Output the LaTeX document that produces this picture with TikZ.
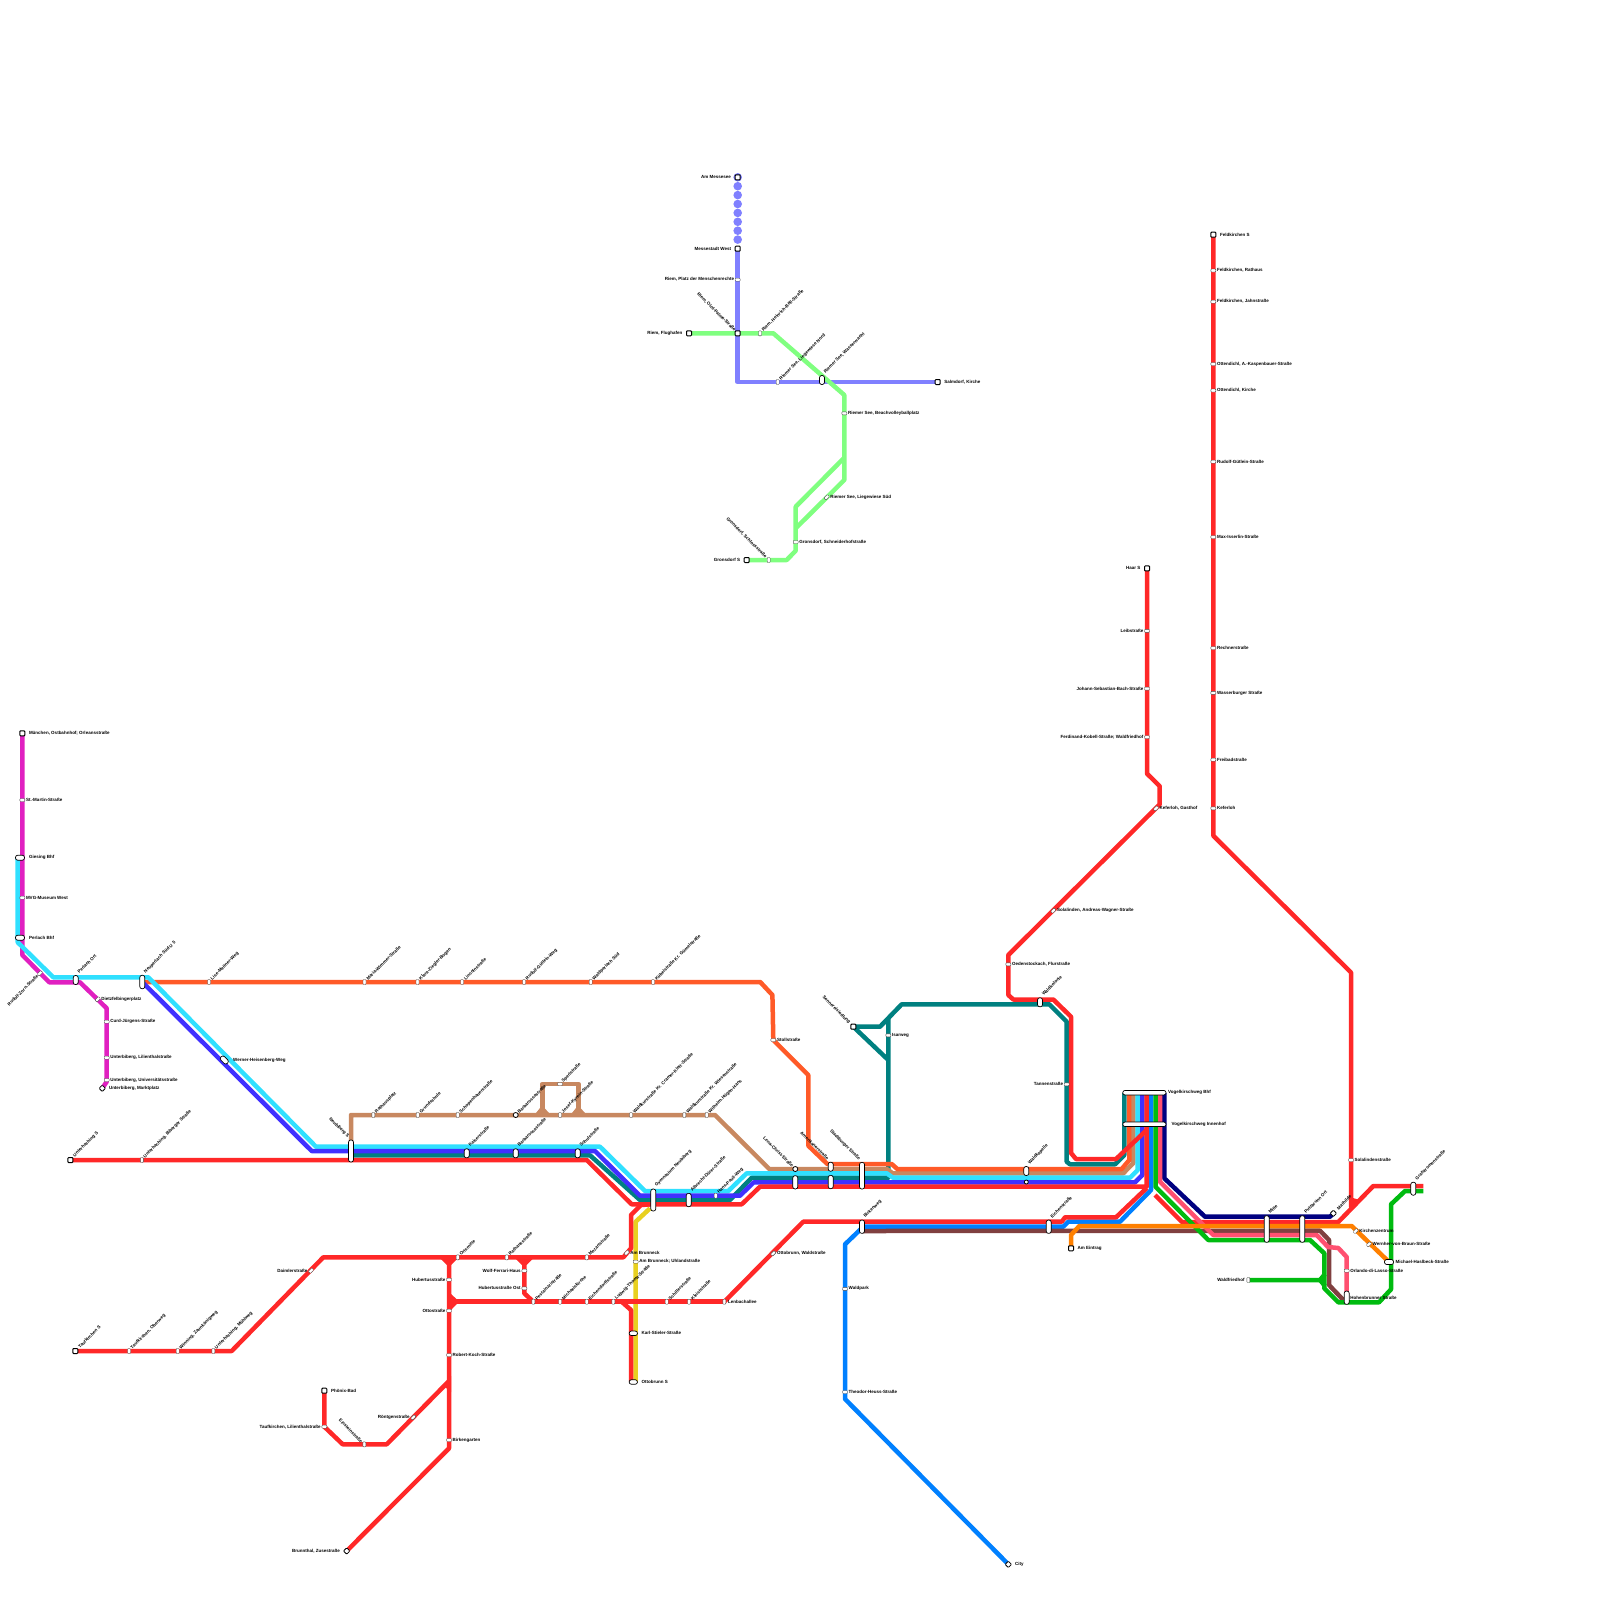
\documentclass[tikz,border=0pt]{standalone}
\usepackage{fontspec}
\setmainfont{Liberation Sans}
\usepackage{xcolor}
\usetikzlibrary{backgrounds}
\definecolor{clperi}{HTML}{8080FF}
\definecolor{clmint}{HTML}{80FF80}
\definecolor{clmag}{HTML}{E020C0}
\definecolor{clcyan}{HTML}{30E0FF}
\definecolor{clviol}{HTML}{4030FF}
\definecolor{cltan}{HTML}{C88860}
\definecolor{clteal}{HTML}{008080}
\definecolor{clred}{HTML}{FF2828}
\definecolor{clora}{HTML}{FF5A28}
\definecolor{clyel}{HTML}{E8D020}
\definecolor{clblue}{HTML}{0080FF}
\definecolor{cllime}{HTML}{00BB10}
\definecolor{clpink}{HTML}{FF5070}
\definecolor{clnavy}{HTML}{000080}
\definecolor{clbrown}{HTML}{804040}
\definecolor{clamb}{HTML}{FF8000}

\begin{document}
\begin{tikzpicture}[
  x=1pt, y=-1pt,
  ln/.style={line width=4.5pt, line join=round},
  st/.style={draw=black!70, fill=white, inner sep=0pt, line width=0.4pt, rounded corners=0.8pt},
  sth/.style={st, minimum width=5pt, minimum height=3pt},
  stv/.style={st, minimum width=3pt, minimum height=5pt},
  std/.style={st, minimum width=5pt, minimum height=3pt, rotate=45},
  sq/.style={st, draw=black, line width=1pt, minimum width=5pt, minimum height=5pt},
  rnd/.style={st, circle, draw=black, line width=0.8pt, minimum size=5pt},
  pill/.style={st, draw=black, line width=0.7pt, rounded corners=2.2pt, minimum width=5pt, minimum height=#1},
  pillh/.style={st, draw=black, line width=0.7pt, rounded corners=2.2pt, minimum width=#1, minimum height=5pt},
  pillr/.style={pillh=#1, rotate=-45},
  lab/.style={font=\fontsize{4.5}{6}\selectfont\bfseries, inner ysep=0pt, inner xsep=3.5pt},
  labe/.style={lab, anchor=west},
  labw/.style={lab, anchor=east},
  labE/.style={labe, inner xsep=6.5pt},
  labW/.style={labw, inner xsep=6.5pt},
  labne/.style={lab, anchor=west, rotate=45},
  labsw/.style={lab, anchor=east, rotate=45},
  labnw/.style={lab, anchor=east, rotate=-45},
  mesdot/.style={circle, fill=clperi, inner sep=0pt, minimum size=8.6pt}
]
\useasboundingbox (0,0) rectangle (1600,1600);

% Messe dots
\foreach \i in {0,...,7} \node[mesdot] (mes\i) at (737.7,177.3+8.9*\i) {};

% Riem
\node[sq] (mess) at (737.7,177.3) {}; \node[labW] (messT) at (mess) {Am Messesee};
\node[sq] (messW) at (737.7,248.7) {}; \node[labW] (messWT) at (messW) {Messestadt West};
\node[sth] (riemP) at (737.7,279.7) {}; \node[labw] (riemPT) at (riemP) {Riem, Platz der Menschenrechte};
\node[sq] (riemO) at (737.7,333.3) {}; \node[labnw] (riemOT) at (riemO) {Riem, Olof-Palme-Straße};
\node[sq] (riemF) at (689,333.3) {}; \node[labW] (riemFT) at (riemF) {Riem, Flughafen};
\node[stv] (riemH) at (760,333.3) {}; \node[labne] (riemHT) at (riemH) {Riem, Heinrich-Böll-Straße};
\node[stv] (seeN) at (777.7,382) {}; \node[labne] (seeNT) at (seeN) {Riemer See, Liegewiese Nord};
\node[pill=9pt] (seeW) at (822,380) {}; \node[labne] (seeWT) at (seeW.north) {Riemer See, Wasserwacht};
\node[sq] (salm) at (937.7,382) {}; \node[labE] (salmT) at (salm) {Salmdorf, Kirche};
\node[sth] (seeB) at (844.3,413.3) {}; \node[labe] (seeBT) at (seeB) {Riemer See, Beachvolleyballplatz};
\node[std] (seeS) at (826.7,497.3) {}; \node[labe] (seeST) at (seeS) {Riemer See, Liegewiese Süd};
\node[sth] (gronH) at (795.7,542) {}; \node[labe] (gronHT) at (gronH) {Gronsdorf, Schneiderhofstraße};
\node[stv] (gronL) at (768.7,560) {}; \node[labnw] (gronLT) at (gronL) {Gronsdorf, Schlossstraße};
\node[sq] (gronS) at (746.7,560) {}; \node[labW] (gronST) at (gronS) {Gronsdorf S};

% Ostbahnhof and Unterbiberg
\node[sq] (ost) at (22.3,733.3) {}; \node[labE] (ostT) at (ost) {München, Ostbahnhof; Orleansstraße};
\node[sth] (mart) at (22.3,800) {}; \node[labe] (martT) at (mart) {St.-Martin-Straße};
\node[pillh=9pt] (gies) at (20,857.7) {}; \node[labE] (giesT) at (22.3,857.7) {Giesing Bhf};
\node[sth] (mvg) at (22.3,897.7) {}; \node[labe] (mvgT) at (mvg) {MVG-Museum West};
\node[pillh=9pt] (perl) at (20,937.7) {}; \node[labE] (perlT) at (22.3,937.7) {Perlach Bhf};
\node[std] (zorn) at (40,973.3) {}; \node[labsw] (zornT) at (zorn) {Rudolf-Zorn-Straße};
\node[pill=9pt] (perlO) at (75.7,980) {}; \node[labne] (perlOT) at (perlO.north) {Perlach Ort};
\node[pill=13.5pt] (neuS) at (142.3,982) {}; \node[labne] (neuST) at (neuS.north) {Neuperlach Süd U 5};
\node[std] (diet) at (97.7,999.3) {}; \node[labe] (dietT) at (diet) {Dietzfelbingerplatz};
\node[sth] (curd) at (106.7,1021.7) {}; \node[labe] (curdT) at (curd) {Curd-Jürgens-Straße};
\node[sth] (ubLil) at (106.7,1057.7) {}; \node[labe] (ubLilT) at (ubLil) {Unterbiberg, Lilienthalstraße};
\node[sth] (ubUni) at (106.7,1080) {}; \node[labe] (ubUniT) at (ubUni) {Unterbiberg, Universitätsstraße};
\node[st, draw=black, line width=0.8pt, minimum size=4.5pt, rotate=45] (ubMar) at (102.3,1088.3) {}; \node[labE] (ubMarT) at (ubMar) {Unterbiberg, Marktplatz};
\node[pillr=9pt] (wern) at (224.3,1060) {}; \node[labE] (wernT) at (226.5,1060) {Werner-Heisenberg-Weg};

% Orange row
\node[stv] (lise) at (209,982) {}; \node[labne] (liseT) at (lise) {Lise-Meitner-Weg};
\node[stv] (mari) at (364.5,982) {}; \node[labne] (mariT) at (mari) {Maria-Wimmer-Straße};
\node[stv] (klar) at (417.5,982) {}; \node[labne] (klarT) at (klar) {Klara-Ziegler-Bogen};
\node[stv] (linc) at (462,982) {}; \node[labne] (lincT) at (linc) {Lincolnstraße};
\node[stv] (rudW) at (524,982) {}; \node[labne] (rudWT) at (rudW) {Rudolf-Gütlein-Weg};
\node[stv] (wald) at (590.7,982) {}; \node[labne] (waldT) at (wald) {Waldperlach Süd};
\node[stv] (kueb) at (653,982) {}; \node[labne] (kuebT) at (kueb) {Kübelstraße Kr. Gümelstraße};
\node[sth] (stoll) at (773.3,1040) {}; \node[labe] (stollT) at (stoll) {Stollstraße};

% Neubiberg row
\node[pill=22pt] (neub) at (351,1151) {}; \node[labnw] (neubT) at (neub.north) {Neubiberg S};
\node[stv] (rath) at (373.3,1115) {}; \node[labne] (rathT) at (rath) {Rathausplatz};
\node[stv] (grun) at (417.7,1115) {}; \node[labne] (grunT) at (grun) {Grundschule};
\node[stv] (scho) at (457.7,1115) {}; \node[labne] (schoT) at (scho) {Schopenhauerstraße};
\node[rnd] (barb) at (515.7,1115) {}; \node[labne] (barbT) at (barb) {Barbarossastraße};
\node[sth] (sper) at (560,1084) {}; \node[labne] (sperT) at (sper) {Sperlstraße};
\node[stv] (jose) at (560,1115) {}; \node[labne] (joseT) at (jose) {Josef-Kyrein-Straße};
\node[stv] (kurC) at (631,1115) {}; \node[labne] (kurCT) at (kurC) {Waldkurstraße Kr. Cramer-Klett-Straße};
\node[stv] (kurW) at (684.3,1115) {}; \node[labne] (kurWT) at (kurW) {Waldkurstraße Kr. Wiesenstraße};
\node[stv] (wilh) at (706.7,1115) {}; \node[labne] (wilhT) at (wilh) {Wilhelm-Hügen-Hans};
\node[pill=9pt] (kais) at (466.7,1153.3) {}; \node[labne] (kaisT) at (kais.north) {Kaiserstraße};
\node[pill=9pt] (bar2) at (515.7,1153.3) {}; \node[labne] (bar2T) at (bar2.north) {Barbarossastraße};
\node[pill=9pt] (schu) at (577.7,1153.3) {}; \node[labne] (schuT) at (schu.north) {Schulstraße};
\node[pill=22pt] (gym) at (653.3,1200) {}; \node[labne] (gymT) at (gym.north) {Gymnasium Neubiberg};
\node[pill=13.3pt] (albr) at (688.7,1200) {}; \node[labne] (albrT) at (albr.north) {Albrecht-Dürer-Straße};
\node[stv] (hans) at (715.7,1195.7) {}; \node[labne] (hansT) at (hans) {Hans-Pauli-Weg};

% Middle stretch
\node[rnd] (lena) at (795.3,1169) {}; \node[labnw] (lenaT) at (lena) {Lena-Christ-Straße};
\node[pill=13.3pt] (len2) at (795.3,1182.3) {};
\node[pill=9pt] (amer) at (830.7,1166.7) {}; \node[labnw] (amerT) at (amer.north) {Amerikanerstraße};
\node[pill=13.3pt] (ame2) at (830.7,1182) {};
\node[pill=26.7pt] (stad) at (862,1175.7) {}; \node[labnw] (stadT) at (stad.north) {Stadtburger Straße};
\node[pill=9pt] (kape) at (1026.3,1171) {}; \node[labne] (kapeT) at (kape.north) {Waldkapelle};
\node[rnd, minimum size=4pt] (kap2) at (1026.3,1182) {};
\node[pill=13.3pt] (birk) at (862,1226.7) {}; \node[labne] (birkT) at (birk.north) {Birkenweg};
\node[pill=13.3pt] (eich) at (1048.7,1226.7) {}; \node[labne] (eichT) at (eich.north) {Eichenstraße};
\node[sq] (eint) at (1071,1248.3) {}; \node[labE] (eintT) at (eint) {Am Eintrag};
\node[std] (ottW) at (773.3,1253.3) {}; \node[labe] (ottWT) at (ottW) {Ottobrunn, Waldstraße};
\node[sth] (wpark) at (845,1288.8) {}; \node[labe] (wparkT) at (wpark) {Waldpark};
\node[sth] (theo) at (845,1392) {}; \node[labe] (theoT) at (theo) {Theodor-Heuss-Straße};
\node[st, draw=black, line width=0.8pt, minimum size=4.5pt, rotate=45] (city) at (1008.3,1564.3) {}; \node[labE] (cityT) at (city) {City};

% Waldkolonie and Isarweg
\node[sq] (senn) at (853.3,1026.7) {}; \node[labnw, inner xsep=5pt] (sennT) at (senn) {Sennereisiedlung};
\node[sth] (isar) at (888.3,1035.3) {}; \node[labe] (isarT) at (isar) {Isarweg};
\node[sth] (tann) at (1066.7,1084.3) {}; \node[labw] (tannT) at (tann) {Tannenstraße};
\node[pill=9pt] (kolo) at (1040,1002.3) {}; \node[labne] (koloT) at (kolo.north) {Waldkolonie};
\node[sth] (oede) at (1008.3,964.3) {}; \node[labe] (oedeT) at (oede) {Oedenstockach, Flurstraße};
\node[std] (sola) at (1053.3,910.7) {}; \node[labe] (solaT) at (sola) {Solalinden, Andreas-Wagner-Straße};

% Haar
\node[sq] (haar) at (1147,568.4) {}; \node[labW] (haarT) at (haar) {Haar S};
\node[sth] (leib) at (1147,630.8) {}; \node[labw] (leibT) at (leib) {Leibstraße};
\node[sth] (jsb) at (1147,688.6) {}; \node[labw] (jsbT) at (jsb) {Johann-Sebastian-Bach-Straße};
\node[sth] (ferd) at (1147,737.2) {}; \node[labw] (ferdT) at (ferd) {Ferdinand-Kobell-Straße; Waldfriedhof};
\node[std] (kefG) at (1156,808.4) {}; \node[labe] (kefGT) at (kefG) {Keferloh, Gasthof};

% Feldkirchen
\node[sq] (feld) at (1213.3,234.7) {}; \node[labE] (feldT) at (feld) {Feldkirchen S};
\node[sth] (feldR) at (1213.3,270.5) {}; \node[labe] (feldRT) at (feldR) {Feldkirchen, Rathaus};
\node[sth] (feldJ) at (1213.3,301.7) {}; \node[labe] (feldJT) at (feldJ) {Feldkirchen, Jahnstraße};
\node[sth] (ottA) at (1213.3,364) {}; \node[labe] (ottAT) at (ottA) {Ottendichl, A.-Kaspenbauer-Straße};
\node[sth] (ottK) at (1213.3,390.5) {}; \node[labe] (ottKT) at (ottK) {Ottendichl, Kirche};
\node[sth] (rudG) at (1213.3,461.7) {}; \node[labe] (rudGT) at (rudG) {Rudolf-Gütlein-Straße};
\node[sth] (isse) at (1213.3,537) {}; \node[labe] (isseT) at (isse) {Max-Isserlin-Straße};
\node[sth] (rech) at (1213.3,648) {}; \node[labe] (rechT) at (rech) {Rechnerstraße};
\node[sth] (wass) at (1213.3,692.9) {}; \node[labe] (wassT) at (wass) {Wasserburger Straße};
\node[sth] (frei) at (1213.3,759.7) {}; \node[labe] (freiT) at (frei) {Freibadstraße};
\node[sth] (kefe) at (1213.3,808.3) {}; \node[labe] (kefeT) at (kefe) {Keferloh};

% Vogelkirschweg and east
\node[pillh=43.3pt, minimum height=4.5pt] (vogB) at (1144.4,1092.7) {}; \node[lab, anchor=west, inner xsep=1.5pt] (vogBT) at (vogB.east) {Vogelkirschweg Bhf};
\node[pillh=43.3pt, minimum height=4.5pt] (vogI) at (1144.4,1124.3) {}; \node[lab, anchor=west, inner xsep=5pt] (vogIT) at (vogI.east) {Vogelkirschweg Innenhof};
\node[pill=26.6pt] (mitt) at (1266.7,1229) {}; \node[labne] (mittT) at (mitt.north) {Mitte};
\node[pill=26.6pt] (putz) at (1302.3,1229) {}; \node[labne] (putzT) at (putz.north) {Putzbrunn Ort};
\node[st, draw=black, line width=0.8pt, minimum size=4.5pt, rotate=45] (math) at (1333.3,1213.3) {}; \node[labne, inner xsep=6pt] (mathT) at (math) {Mathilde};
\node[sth] (solS) at (1351,1160) {}; \node[labe] (solST) at (solS) {Solalindenstraße};
\node[pill=13pt] (graf) at (1413.3,1188.7) {}; \node[labne] (grafT) at (graf.north) {Grafstromenstraße};
\node[std] (kirc) at (1355.7,1231) {}; \node[labe] (kircT) at (kirc) {Kirchenzentrum};
\node[std] (wernB) at (1369,1244.3) {}; \node[labe] (wernBT) at (wernB) {Wernher-von-Braun-Straße};
\node[pillh=9pt] (mich) at (1389,1262) {}; \node[lab, anchor=west, inner xsep=1.5pt] (michT) at (mich.east) {Michael-Haslbeck-Straße};
\node[sth] (orla) at (1346.7,1270.7) {}; \node[labe] (orlaT) at (orla) {Orlando-di-Lasso-Straße};
\node[pill=13.3pt] (hohe) at (1346.7,1297.7) {}; \node[labe] (hoheT) at (hohe) {Hohenbrunner Straße};
\node[stv] (wfh) at (1248.3,1280) {}; \node[labw] (wfhT) at (wfh) {Waldfriedhof};

% Ottobrunn
\node[stv] (orts) at (457.7,1257.3) {}; \node[labne] (ortsT) at (orts) {Ortsmitte};
\node[stv] (rats) at (506.7,1257.3) {}; \node[labne] (ratsT) at (rats) {Rathausstraße};
\node[stv] (moza) at (586.7,1257.3) {}; \node[labne] (mozaT) at (moza) {Mozartstraße};
\node[std] (brun) at (626.7,1252.7) {}; \node[labe] (brunT) at (brun) {Am Brunneck};
\node[sth] (uhla) at (635.7,1261.7) {}; \node[labe] (uhlaT) at (uhla) {Am Brunneck; Uhlandstraße};
\node[sth] (wolf) at (524.3,1270.7) {}; \node[labw] (wolfT) at (wolf) {Wolf-Ferrari-Haus};
\node[sth] (hubO) at (524.3,1288.3) {}; \node[labw] (hubOT) at (hubO) {Hubertusstraße Ost};
\node[sth] (hubS) at (449,1279.7) {}; \node[labw] (hubST) at (hubS) {Hubertusstraße};
\node[sth] (otto) at (449,1310.7) {}; \node[labw] (ottoT) at (otto) {Ottostraße};
\node[sth] (koch) at (449,1355) {}; \node[labe] (kochT) at (koch) {Robert-Koch-Straße};
\node[sth] (bgar) at (449,1440) {}; \node[labe] (bgarT) at (bgar) {Birkengarten};
\node[stv] (pest) at (533.3,1301.7) {}; \node[labne] (pestT) at (pest) {Pestalozzistraße};
\node[stv] (mikl) at (560,1301.7) {}; \node[labne] (miklT) at (mikl) {Michaelskirche};
\node[stv] (eidf) at (586.7,1301.7) {}; \node[labne] (eidfT) at (eidf) {Eichendorffstraße};
\node[stv] (thom) at (613.3,1301.7) {}; \node[labne] (thomT) at (thom) {Ludwig-Thoma-Straße};
\node[stv] (schi) at (666.7,1301.7) {}; \node[labne] (schiT) at (schi) {Schillerstraße};
\node[stv] (klei) at (689,1301.7) {}; \node[labne] (kleiT) at (klei) {Kleiststraße};
\node[stv] (lenb) at (724.3,1301.7) {}; \node[labe] (lenbT) at (lenb) {Lenbachallee};
\node[pillh=8.3pt, minimum height=4.5pt] (karl) at (633.3,1333.3) {}; \node[labE] (karlT) at (635,1333.3) {Karl-Stieler-Straße};
\node[pillh=8.3pt, minimum height=4.5pt] (ottS) at (633.3,1382) {}; \node[labE] (ottST) at (635,1382) {Ottobrunn S};

% Taufkirchen
\node[sq] (uhaS) at (70.4,1160) {}; \node[labne, inner xsep=5pt] (uhaST) at (uhaS) {Unterhaching S};
\node[stv] (uhaB) at (141.8,1160) {}; \node[labne] (uhaBT) at (uhaB) {Unterhaching, Biberger Straße};
\node[sq] (taufS) at (75.3,1351) {}; \node[labne, inner xsep=5pt] (taufST) at (taufS) {Taufkirchen S};
\node[stv] (taufO) at (129,1351) {}; \node[labne] (taufOT) at (taufO) {Taufkirchen, Oberweg};
\node[stv] (winn) at (177.7,1351) {}; \node[labne] (winnT) at (winn) {Winning, Zaunkönigweg};
\node[stv] (mueh) at (213.3,1351) {}; \node[labne] (muehT) at (mueh) {Unterhaching, Mühlweg};
\node[std] (daim) at (311,1270.7) {}; \node[labw] (daimT) at (daim) {Daimlerstraße};
\node[sq] (phoe) at (324.3,1390.7) {}; \node[labE] (phoeT) at (phoe) {Phönix-Bad};
\node[sth] (taufL) at (324.3,1426.7) {}; \node[labw] (taufLT) at (taufL) {Taufkirchen, Lilienthalstraße};
\node[stv] (eins) at (364.3,1444.3) {}; \node[labnw] (einsT) at (eins) {Einsteinstraße};
\node[std] (roen) at (413.3,1417.3) {}; \node[labw] (roenT) at (roen) {Röntgenstraße};
\node[st, draw=black, line width=0.8pt, minimum size=4.5pt, rotate=45] (zuse) at (346.7,1551) {}; \node[labW] (zuseT) at (zuse) {Brunnthal, Zusestraße};

% Free ends of the lines
\coordinate (topTeal) at (1124.3,1093);
\coordinate (topOra) at (1129,1093);
\coordinate (topTan) at (1133.3,1093);
\coordinate (topCyan) at (1137.7,1093);
\coordinate (topViol) at (1142.3,1093);
\coordinate (topRed) at (1146.7,1093);
\coordinate (topBlue) at (1151,1093);
\coordinate (topLime) at (1155.5,1093);
\coordinate (topPink) at (1160,1093);
\coordinate (topNavy) at (1164.3,1093);
\coordinate (giesC) at (17.7,857.7);
\coordinate (neubT1) at (351,1155.3);
\coordinate (gymR) at (650,1204.3);
\coordinate (gymY) at (650,1208.3);
\coordinate (ottoR) at (631,1381.7);
\coordinate (ottoY) at (635.7,1381.7);
\coordinate (thomR) at (621.7,1301.7);
\coordinate (hubTop) at (449,1257.3);
\coordinate (hubMid) at (449,1301.7);
\coordinate (hubLow) at (449,1381);
\coordinate (wolfTop) at (524.3,1257.3);
\coordinate (tanL) at (542.3,1115);
\coordinate (tanR) at (578.3,1115);
\coordinate (tealTop) at (888.3,1018);
\coordinate (redCol) at (1146.7,1130);
\coordinate (redLow) at (1146.7,1188);
\coordinate (redEnd) at (1423.3,1186);
\coordinate (redStart) at (1155,1195);
\coordinate (limeEnd) at (1423.3,1191);
\coordinate (feldEnd) at (1351,1207);
\coordinate (birkB) at (862,1231);
\coordinate (wfhJ) at (1320,1280);
\coordinate (limeUp) at (1325,1274);
\coordinate (limeDn) at (1325,1286);

\begin{scope}[on background layer]
% Riem lines
\draw[ln, clperi] (messW.center) -- (737.7,382) -- (salm.center);
\draw[ln, clmint] (riemF.center) -- (773.3,333.3) -- (844.3,395) -- (844.3,480) -- (795.7,528.3);
\draw[ln, clmint] (844.3,457.7) -- (795.7,506.7) -- (795.7,550.7) -- (786.7,560) -- (gronS.center);

% Magenta and teal first
\draw[ln, clmag] (ost.center) -- (22.3,955) -- (49.3,982.3) -- (80,982.3) -- (106.7,1008.3) -- (106.7,1081.7) -- (ubMar.center);
\draw[ln, clteal] (topTeal) -- (1124.3,1155) -- (1115,1164.3) -- (1070,1164.3) -- (1066.7,1161.7) -- (1066.7,1021.7) -- (1049.3,1004.3) -- (901.7,1004.3) -- (880,1026.7) -- (senn.center);
\draw[ln, clteal] (senn.center) -- (tealTop |- 0,1060);
\draw[ln, clteal] (tealTop) -- (888.3,1177.7) -- (751.7,1177.7) -- (730,1200) -- (640,1200) -- (590,1155.3) -- (neubT1);

% Bundle
\draw[ln, cltan] (neub.center) -- (351,1115) -- (715,1115) -- (769.3,1169) -- (886.7,1169) -- (892.7,1173.3) -- (1123.3,1173.3) -- (1133.3,1163) -- (topTan);
\draw[ln, cltan] (tanL) -- (542.3,1084) -- (578.3,1084) -- (tanR);
\fill[cltan] (536,1113) -- (549,1113) -- (544.5,1108) -- (540,1108) -- cycle;
\fill[cltan] (572,1113) -- (585,1113) -- (580.5,1108) -- (576,1108) -- cycle;
\draw[ln, clora] (neuS.center) -- (760.2,982) -- (772.4,995) -- (stoll.center) -- (808.3,1075) -- (808.3,1145.7) -- (827.3,1164) -- (891.7,1164) -- (897.3,1169) -- (1121.7,1169) -- (1129.3,1160) -- (topOra);
\draw[ln, clcyan] (giesC) -- (17.7,942.3) -- (53.3,977.3) -- (148.3,977.3) -- (316,1146.7) -- (600,1146.7) -- (645,1191) -- (728.3,1191) -- (746.7,1173.3) -- (886.7,1173.3) -- (893,1177.7) -- (1130,1177.7) -- (1137.7,1170) -- (topCyan);
\draw[ln, clviol] (neuS.center) -- (311.7,1151) -- (595,1151) -- (640,1195.7) -- (740,1195.7) -- (753.7,1182.3) -- (1135,1182.3) -- (1142.3,1175) -- (topViol);
\draw[ln, clyel] (gymY) -- (635.7,1221.7) -- (ottoY);
\draw[ln, clblue] (topBlue) -- (1151,1190) -- (1120,1221.7) -- (1068.3,1221.7) -- (1063.3,1226.7) -- (863.3,1226.7) -- (845,1244.3) -- (845,1399) -- (city.center);
\draw[ln, clnavy] (topNavy) -- (1164.3,1178.3) -- (1205,1216.7) -- (1330,1216.7) -- (math.center);

% Red
\draw[ln, clred] (uhaS.center) -- (586.7,1160) -- (631.7,1204.3) -- (741.7,1204.3) -- (760,1186.7) -- (1146.7,1186.7) -- (topRed);
\draw[ln, clred] (taufS.center) -- (231.7,1351) -- (323.3,1257.3) -- (623.3,1257.3) -- (631,1248.3) -- (631,1215) -- (641,1205) -- (gymR);
\draw[ln, clred] (lenb.center) -- (803.3,1221.7) -- (1061.7,1221.7) -- (1065,1217.3) -- (1116,1217.3) -- (redLow);
\draw[ln, clred] (hubMid) -- (lenb.center);
\draw[ln, clred] (ottoR) -- (631,1310) -- (thomR);
\draw[ln, clred] (zuse.center) -- (449,1448.3) -- (hubTop);
\draw[ln, clred] (phoe.center) -- (324.3,1426.7) -- (342.7,1444.3) -- (386.7,1444.3) -- (hubLow);
\draw[ln, clred] (wolfTop) -- (524.3,1293.3) -- (pest.center);
\draw[ln, clred] (haar.center) -- (1147,773.6) -- (1159.7,786.2) -- (1159.7,804.4) -- (1008.3,955) -- (1008.3,995) -- (1013.3,999.5) -- (1053.3,999.5) -- (1071,1016.7) -- (1071,1153) -- (1076,1159) -- (1116,1159) -- (redCol);
\draw[ln, clred] (feld.center) -- (1213.3,835.7) -- (1351,972.5) -- (feldEnd);
\draw[ln, clred] (redStart) -- (1182,1222) -- (1338.3,1222) -- (1373.3,1186) -- (redEnd);
\fill[clred] (441,1259) -- (457,1259) -- (451.2,1265) -- (446.8,1265) -- cycle;
\fill[clred] (516,1259) -- (532.5,1259) -- (526.5,1265) -- (522,1265) -- cycle;
\fill[clred] (451,1294) -- (457,1299.5) -- (457,1303.9) -- (451,1310) -- cycle;
\fill[clred] (451,1376) -- (451,1392) -- (445,1387) -- cycle;
\fill[clred] (1349,1198) -- (1353,1198) -- (1360,1200) -- (1349,1212) -- cycle;

% East end
\draw[ln, clbrown] (birkB) -- (1320,1230.7) -- (1329,1240) -- (1329,1285) -- (1343.3,1300);
\draw[ln, clpink] (topPink) -- (1160,1181.7) -- (1213.3,1235) -- (1316.7,1235) -- (1328,1247) -- (1338.3,1248) -- (1346.7,1257) -- (hohe.center);
\draw[ln, cllime] (topLime) -- (1155.5,1186.7) -- (1208.3,1240) -- (1310,1240) -- (1324.3,1253.3) -- (1324.3,1288.3) -- (1338.3,1302.3) -- (1379,1302.3) -- (1391,1289.3) -- (1391,1204.3) -- (1405,1191) -- (limeEnd);
\draw[ln, cllime] (wfh.center) -- (wfhJ) -- (limeUp);
\draw[ln, cllime] (wfhJ) -- (limeDn);
\draw[ln, clamb] (eint.center) -- (1071,1235) -- (1079.3,1226) -- (1351.7,1226) -- (mich.center);
\end{scope}

\end{tikzpicture}
\end{document}
